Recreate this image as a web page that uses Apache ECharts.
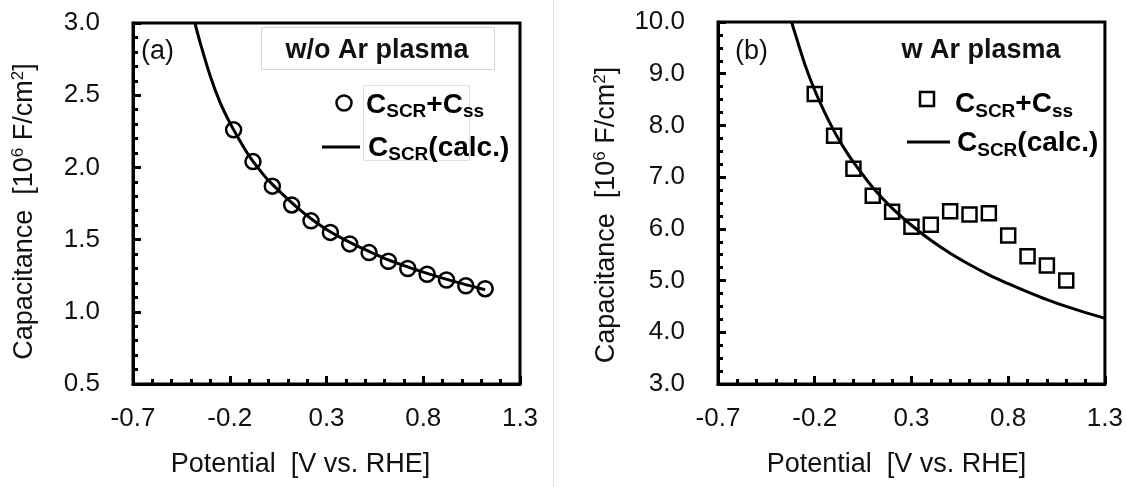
<!DOCTYPE html>
<html>
<head>
<meta charset="utf-8">
<script src="https://cdn.jsdelivr.net/npm/echarts@6/dist/echarts.min.js"></script>
<style>html,body{margin:0;padding:0;background:#fff}#c{width:1126px;height:487px}</style>
</head>
<body>
<div id="c"></div>
<script>
// ---- data ----
const potentialA = [-0.18, -0.08, 0.02, 0.12, 0.22, 0.32, 0.42, 0.52, 0.62, 0.72, 0.82, 0.92, 1.02, 1.12];
const capA = [2.26, 2.04, 1.87, 1.74, 1.63, 1.55, 1.47, 1.41, 1.35, 1.30, 1.26, 1.22, 1.18, 1.16];
const calcAx = [-0.38, -0.35, -0.3, -0.25, -0.2, -0.15, -0.1, -0.05, 0, 0.1, 0.2, 0.3, 0.4, 0.5, 0.6, 0.7, 0.8, 0.9, 1.0, 1.1, 1.12];
const calcAy = [3.0, 2.85, 2.63, 2.45, 2.31, 2.19, 2.08, 1.99, 1.91, 1.78, 1.665, 1.57, 1.495, 1.43, 1.37, 1.32, 1.275, 1.233, 1.195, 1.16, 1.153];

const potentialB = [-0.2, -0.1, 0.0, 0.1, 0.2, 0.3, 0.4, 0.5, 0.6, 0.7, 0.8, 0.9, 1.0, 1.1];
const capB = [8.61, 7.80, 7.16, 6.64, 6.33, 6.04, 6.08, 6.34, 6.28, 6.30, 5.87, 5.47, 5.29, 5.00];
const calcBx = [-0.32, -0.3, -0.25, -0.2, -0.15, -0.1, -0.05, 0, 0.1, 0.2, 0.3, 0.4, 0.5, 0.6, 0.7, 0.8, 0.9, 1.0, 1.1, 1.2, 1.3];
const calcBy = [10.0, 9.76, 9.17, 8.68, 8.26, 7.89, 7.57, 7.29, 6.80, 6.40, 6.07, 5.78, 5.53, 5.31, 5.11, 4.94, 4.78, 4.63, 4.50, 4.38, 4.27];

const xRange = {min: -0.7, max: 1.3, interval: 0.5};
const yRangeA = {min: 0.5, max: 3.0, interval: 0.5};
const yRangeB = {min: 3.0, max: 10.0, interval: 1.0};

const xTitle = 'Potential  [V vs. RHE]';
const panelTags = ['(a)', '(b)'];
const panelNames = ['w/o Ar plasma', 'w Ar plasma'];

// ---- chart ----
const FF = '"Liberation Sans", Arial, Helvetica, sans-serif';
const zip = (a, b) => a.map((v, i) => [v, b[i]]);

function xAxis(gi, padRight) {
  return {
    type: 'value', gridIndex: gi, min: xRange.min, max: xRange.max, interval: xRange.interval,
    name: xTitle, nameLocation: 'middle', nameGap: 67,
    nameTextStyle: {fontFamily: FF, fontSize: 27, color: '#111', padding: [0, padRight, 0, 0]},
    axisLine: {show: true, onZero: false, lineStyle: {color: '#000', width: 3}},
    axisTick: {show: true, inside: true, length: 8, lineStyle: {color: '#000', width: 3}},
    minorTick: {show: true, splitNumber: 5, length: 5, lineStyle: {color: '#000', width: 3}},
    splitLine: {show: false}, minorSplitLine: {show: false},
    axisLabel: {fontFamily: FF, fontSize: 26, color: '#111', margin: 22, formatter: v => v.toFixed(1)}
  };
}
function yAxis(gi, r, gap, split, padRight) {
  return {
    type: 'value', gridIndex: gi, min: r.min, max: r.max, interval: r.interval,
    name: '{m|Capacitance  [10}{s|6}{m| F/cm}{s|2}{m|]}', nameLocation: 'middle', nameGap: gap, nameRotate: 90,
    nameTextStyle: {
      fontFamily: FF, fontSize: 27, color: '#111', padding: [0, padRight, 0, 0],
      rich: {
        m: {fontFamily: FF, fontSize: 27, color: '#111', lineHeight: 27, verticalAlign: 'bottom'},
        s: {fontFamily: FF, fontSize: 17, color: '#111', lineHeight: 40, verticalAlign: 'middle'}
      }
    },
    axisLine: {show: true, onZero: false, lineStyle: {color: '#000', width: 3}},
    axisTick: {show: true, inside: true, length: 8, lineStyle: {color: '#000', width: 3}},
    minorTick: {show: true, splitNumber: split, length: 5, lineStyle: {color: '#000', width: 3}},
    splitLine: {show: false}, minorSplitLine: {show: false},
    axisLabel: {fontFamily: FF, fontSize: 26, color: '#111', margin: 33, formatter: v => v.toFixed(1)}
  };
}

const richLeg = {
  c: {fontFamily: FF, fontSize: 28, fontWeight: 'bold', fill: '#000', color: '#000', lineHeight: 28, verticalAlign: 'top'},
  s: {fontFamily: FF, fontSize: 19, fontWeight: 'bold', fill: '#000', color: '#000', lineHeight: 42, verticalAlign: 'middle'}
};
function legText(x, y, txt) {
  return {type: 'text', z: 100, style: {x: x, y: y, text: txt, rich: richLeg, fill: '#000',
    font: 'bold 28px ' + FF, align: 'left', verticalAlign: 'middle', textAlign: 'left', textVerticalAlign: 'middle'}};
}
function plainText(x, y, txt, bold, align) {
  return {type: 'text', z: 100, style: {x: x, y: y, text: txt, fill: '#111',
    font: (bold ? 'bold ' : '') + '27px ' + FF, align: align, verticalAlign: 'middle', textAlign: align, textVerticalAlign: 'middle'}};
}

const chart = echarts.init(document.getElementById('c'), null, {renderer: 'canvas'});
chart.setOption({
  animation: false,
  backgroundColor: '#fff',
  grid: [
    {left: 133, top: 23, width: 387, height: 361, show: true, borderColor: '#000', borderWidth: 3, backgroundColor: 'transparent'},
    {left: 718, top: 22, width: 387, height: 362, show: true, borderColor: '#000', borderWidth: 3, backgroundColor: 'transparent'}
  ],
  xAxis: [xAxis(0, 52), xAxis(1, 30)],
  yAxis: [yAxis(0, yRangeA, 95, 5, 16), yAxis(1, yRangeB, 98, 4, 24)],
  series: [
    {type: 'line', xAxisIndex: 0, yAxisIndex: 0, data: zip(calcAx, calcAy), showSymbol: false, smooth: 0.3,
      lineStyle: {color: '#000', width: 3}, z: 2},
    {type: 'scatter', xAxisIndex: 0, yAxisIndex: 0, data: zip(potentialA, capA), symbol: 'circle', symbolSize: 15,
      itemStyle: {color: 'rgba(0,0,0,0)', borderColor: '#000', borderWidth: 2.5, opacity: 1}, z: 3},
    {type: 'line', xAxisIndex: 1, yAxisIndex: 1, data: zip(calcBx, calcBy), showSymbol: false, smooth: 0.3,
      lineStyle: {color: '#000', width: 3}, z: 2},
    {type: 'scatter', xAxisIndex: 1, yAxisIndex: 1, data: zip(potentialB, capB), symbol: 'rect', symbolSize: 14,
      itemStyle: {color: 'rgba(0,0,0,0)', borderColor: '#000', borderWidth: 2.5, opacity: 1}, z: 3}
  ],
  graphic: [
    {type: 'line', z: 0, shape: {x1: 553.5, y1: 0, x2: 553.5, y2: 487}, style: {stroke: '#e4e4e4', lineWidth: 1}},
    // panel (a) annotations
    plainText(141, 52, panelTags[0], false, 'left'),
    {type: 'rect', z: 90, shape: {x: 261.5, y: 27.5, width: 233, height: 42}, style: {fill: 'none', stroke: '#d4d4d4', lineWidth: 1}},
    plainText(377, 51, panelNames[0], true, 'center'),
    {type: 'rect', z: 90, shape: {x: 363.5, y: 85.5, width: 106, height: 75}, style: {fill: 'none', stroke: '#e2e2e2', lineWidth: 1}},
    {type: 'circle', z: 100, shape: {cx: 344, cy: 103, r: 7.5}, style: {fill: 'none', stroke: '#000', lineWidth: 2.5}},
    legText(366, 112, '{c|C}{s|SCR}{c|+C}{s|ss}'),
    {type: 'line', z: 100, shape: {x1: 322, y1: 147, x2: 360, y2: 147}, style: {stroke: '#000', lineWidth: 3}},
    legText(368, 155, '{c|C}{s|SCR}{c|(calc.)}'),
    // panel (b) annotations
    plainText(735, 52, panelTags[1], false, 'left'),
    plainText(981, 51, panelNames[1], true, 'center'),
    {type: 'rect', z: 100, shape: {x: 920, y: 92, width: 14, height: 14}, style: {fill: 'none', stroke: '#000', lineWidth: 2.5}},
    legText(955, 111.5, '{c|C}{s|SCR}{c|+C}{s|ss}'),
    {type: 'line', z: 100, shape: {x1: 907, y1: 142, x2: 950, y2: 142}, style: {stroke: '#000', lineWidth: 3}},
    legText(957, 150.5, '{c|C}{s|SCR}{c|(calc.)}')
  ]
});
</script>
</body>
</html>
